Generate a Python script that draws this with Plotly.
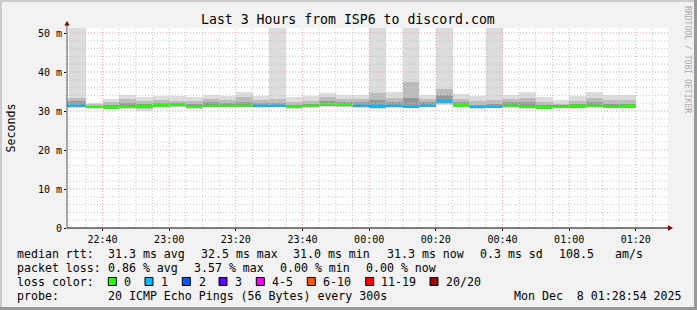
import plotly.graph_objects as go
import pandas as pd

# ---------------- data ----------------
times = ["2025-12-07 22:25", "2025-12-07 22:30", "2025-12-07 22:35", "2025-12-07 22:40",
         "2025-12-07 22:45", "2025-12-07 22:50", "2025-12-07 22:55", "2025-12-07 23:00",
         "2025-12-07 23:05", "2025-12-07 23:10", "2025-12-07 23:15", "2025-12-07 23:20",
         "2025-12-07 23:25", "2025-12-07 23:30", "2025-12-07 23:35", "2025-12-07 23:40",
         "2025-12-07 23:45", "2025-12-07 23:50", "2025-12-07 23:55", "2025-12-08 00:00",
         "2025-12-08 00:05", "2025-12-08 00:10", "2025-12-08 00:15", "2025-12-08 00:20",
         "2025-12-08 00:25", "2025-12-08 00:30", "2025-12-08 00:35", "2025-12-08 00:40",
         "2025-12-08 00:45", "2025-12-08 00:50", "2025-12-08 00:55", "2025-12-08 01:00",
         "2025-12-08 01:05", "2025-12-08 01:10", "2025-12-08 01:15"]

median_ms = [31.5, 31.4, 31.1, 31.0, 31.1, 31.2, 31.5, 31.6, 31.1, 31.3, 31.4, 31.4,
             31.3, 31.3, 31.1, 31.4, 31.8, 31.6, 31.4, 31.2, 31.4, 31.1, 31.4, 32.5,
             31.5, 31.1, 31.1, 31.3, 31.1, 31.0, 31.1, 31.2, 31.4, 31.1, 31.2]

lost_pings = [1, 1, 0, 0, 0, 0, 0, 0, 0, 0, 0, 0, 1, 1, 0, 0, 0, 0, 1, 1, 1, 1, 1, 1,
              0, 1, 1, 0, 0, 0, 0, 0, 0, 0, 0]

smoke_min = [30.8, 30.8, 30.6, 30.4, 30.6, 30.1, 30.8, 30.9, 30.4, 30.9, 30.9, 30.9,
             30.8, 30.9, 30.4, 30.8, 31.0, 30.9, 30.8, 30.4, 30.8, 30.7, 30.9, 31.6,
             30.9, 30.4, 30.8, 30.8, 30.6, 30.7, 30.8, 30.7, 30.8, 30.7, 30.7]
smoke_max = [33.4, 55.0, 32.0, 33.1, 34.1, 33.5, 33.9, 33.9, 33.6, 34.1, 33.8, 35.0,
             33.8, 55.0, 33.7, 33.8, 34.7, 34.1, 34.1, 55.0, 35.0, 55.0, 34.1, 55.0,
             34.3, 33.8, 55.0, 34.1, 34.8, 33.5, 32.8, 33.8, 34.8, 34.1, 34.1]
mid_lo = [31.0, 31.0, 30.8, 30.7, 30.8, 30.6, 31.0, 31.1, 30.7, 31.0, 31.1, 31.1,
          31.0, 31.0, 30.8, 31.0, 31.2, 31.1, 31.0, 30.7, 31.0, 30.9, 31.1, 31.8,
          31.1, 30.7, 30.9, 31.0, 30.8, 30.8, 30.9, 30.9, 31.0, 30.9, 30.9]
mid_hi = [32.8, 33.4, 31.7, 32.4, 33.0, 32.6, 32.8, 32.6, 32.6, 33.0, 32.8, 33.6,
          32.8, 33.2, 32.4, 32.6, 33.6, 33.0, 33.0, 34.7, 33.4, 37.5, 33.0, 35.6,
          33.0, 32.6, 32.8, 33.0, 33.4, 32.4, 31.9, 32.6, 33.4, 32.8, 32.8]
in_lo = [31.2, 31.2, 30.9, 30.8, 30.9, 30.9, 31.2, 31.3, 30.9, 31.1, 31.2, 31.2,
         31.1, 31.1, 30.9, 31.1, 31.4, 31.3, 31.1, 30.9, 31.1, 31.0, 31.2, 32.0,
         31.2, 30.9, 31.0, 31.1, 30.9, 30.9, 31.0, 31.0, 31.2, 31.0, 31.0]
in_hi = [32.2, 32.6, 31.4, 31.6, 32.0, 31.8, 32.0, 32.1, 31.8, 32.2, 32.0, 32.4,
         32.0, 32.0, 31.6, 31.9, 32.6, 32.3, 32.2, 32.8, 32.4, 33.4, 32.2, 34.0,
         32.2, 31.6, 31.8, 32.2, 32.4, 31.6, 31.5, 31.8, 32.4, 31.8, 31.9]

loss_labels = ["0", "1", "2", "3", "4-5", "6-10", "11-19", "20/20"]
loss_colors = ["#26ff00", "#00b8ff", "#0059ff", "#5e00ff", "#ff00ff", "#ff5500", "#ff0000", "#a00000"]

y_tick_vals = [0, 10, 20, 30, 40, 50]
y_tick_text = ["0", "10 m", "20 m", "30 m", "40 m", "50 m"]

title_text = "Last 3 Hours from ISP6 to discord.com"
legend_rows = [
    [("median rtt:", 16), ("31.3 ms avg", 107.3), ("32.5 ms max", 200.0), ("31.0 ms min", 292.3),
     ("31.3 ms now", 386.0), ("0.3 ms sd", 479.3), ("108.5", 558.3), ("am/s", 614.0)],
    [("packet loss:", 16), ("0.86 % avg", 107.3), ("3.57 % max", 193.3), ("0.00 % min", 279.3),
     ("0.00 % now", 365.0)],
    [("loss color:", 16)],
    [("probe:", 16), ("20 ICMP Echo Pings (56 Bytes) every 300s", 107.3),
     ("Mon Dec  8 01:28:54 2025", 512.7)],
]
legend_row_y = [254, 268, 282, 296]
swatch_x = [108.3, 145.0, 182.3, 219.0, 256.3, 307.3, 365.7, 430.0]
swatch_label_x = [123.3, 160.0, 197.7, 234.3, 271.0, 322.3, 380.0, 445.0]

# ---------------- geometry ----------------
W, H = 697, 310
L, R, T, B = 67, 668, 28, 228
PW, PH = R - L, B - T
MONO = "DejaVu Sans Mono"


def px(xp):
    return (xp - L) / PW


def py(yp):
    return (B - yp) / PH


def nb(s):
    return s.replace(" ", "\u00a0")


t = pd.to_datetime(times)
x_start = pd.Timestamp("2025-12-07 22:29:21")
x_end = pd.Timestamp("2025-12-08 01:29:39")
STEP = 300000

fig = go.Figure()


def band(lo, hi, color):
    fig.add_trace(go.Bar(
        x=t, base=lo, y=[h - l for l, h in zip(lo, hi)],
        width=STEP, offset=0, marker=dict(color=color, line=dict(width=0)),
        hoverinfo="skip", showlegend=False))


band(smoke_min, smoke_max, "#dcdcdc")
band(mid_lo, mid_hi, "#bcbcbc")
band(in_lo, in_hi, "#979797")

med_color = []
for n in lost_pings:
    idx = {0: 0, 1: 1, 2: 2, 3: 3}.get(n, 4 if n <= 5 else 5 if n <= 10 else 6 if n <= 19 else 7)
    med_color.append(loss_colors[idx])
fig.add_trace(go.Bar(
    x=t, base=[m - 0.25 for m in median_ms], y=[0.5] * len(median_ms),
    width=STEP, offset=0, marker=dict(color=med_color, line=dict(width=0)),
    hoverinfo="skip", showlegend=False))

shapes = []
# grid (drawn above the data like rrdtool)
minor_col = "#c8c8c8"
major_col = "#f2a0a0"
g = pd.Timestamp("2025-12-07 22:30")
while g <= x_end:
    major = (g.minute % 20 == 0)
    shapes.append(dict(type="line", xref="x", yref="paper", x0=g, x1=g, y0=0, y1=1,
                       layer="above", line=dict(color=major_col if major else minor_col,
                                                width=1, dash="1px,2px")))
    g += pd.Timedelta(minutes=5)
for yv in range(2, 52, 2):
    major = (yv % 10 == 0)
    shapes.append(dict(type="line", xref="paper", yref="y", x0=0, x1=1, y0=yv, y1=yv,
                       layer="above", line=dict(color=major_col if major else minor_col,
                                                width=1, dash="1px,2px")))

# axes with arrows
shapes.append(dict(type="line", xref="paper", yref="paper", x0=0, x1=px(670), y0=0, y1=0,
                   layer="above", line=dict(color="#000000", width=1)))
shapes.append(dict(type="line", xref="paper", yref="paper", x0=0, x1=0, y0=0, y1=py(23),
                   layer="above", line=dict(color="#555555", width=1)))
shapes.append(dict(type="path", xref="paper", yref="paper", layer="above",
                   path=f"M {px(668)} {py(225.3)} L {px(673)} {py(228)} L {px(668)} {py(230.7)} Z",
                   fillcolor="#7f0000", line=dict(width=0)))
shapes.append(dict(type="path", xref="paper", yref="paper", layer="above",
                   path=f"M {px(64.3)} {py(25.5)} L {px(67)} {py(21)} L {px(69.7)} {py(25.5)} Z",
                   fillcolor="#7f0000", line=dict(width=0)))

# frame (3D-style border)
shapes.append(dict(type="rect", xref="paper", yref="paper", x0=px(0), x1=px(697), y0=py(0), y1=py(2),
                   fillcolor="#cbcbcb", line=dict(width=0)))
shapes.append(dict(type="rect", xref="paper", yref="paper", x0=px(0), x1=px(2), y0=py(0), y1=py(310),
                   fillcolor="#cbcbcb", line=dict(width=0)))
shapes.append(dict(type="rect", xref="paper", yref="paper", x0=px(0), x1=px(697), y0=py(307), y1=py(310),
                   fillcolor="#999999", line=dict(width=0)))
shapes.append(dict(type="rect", xref="paper", yref="paper", x0=px(694), x1=px(697), y0=py(0), y1=py(310),
                   fillcolor="#999999", line=dict(width=0)))

# loss colour swatches
for sx, col in zip(swatch_x, loss_colors):
    shapes.append(dict(type="rect", xref="paper", yref="paper", x0=px(sx), x1=px(sx + 8),
                       y0=py(277.5), y1=py(285.5), fillcolor=col, line=dict(color="#000000", width=1)))

annotations = []
for row, yrow in zip(legend_rows, legend_row_y):
    for txt, xl in row:
        annotations.append(dict(text=nb(txt), xref="paper", yref="paper", x=px(xl), y=py(yrow),
                                xanchor="left", yanchor="middle", showarrow=False, borderpad=0,
                                font=dict(family=MONO, size=11.6, color="#000000")))
for lab, xl in zip(loss_labels, swatch_label_x):
    annotations.append(dict(text=nb(lab), xref="paper", yref="paper", x=px(xl), y=py(282),
                            xanchor="left", yanchor="middle", showarrow=False, borderpad=0,
                            font=dict(family=MONO, size=11.6, color="#000000")))
annotations.append(dict(text="Seconds", xref="paper", yref="paper", x=px(10.5), y=py(128),
                        xanchor="center", yanchor="middle", textangle=-90, showarrow=False,
                        font=dict(family=MONO, size=11.6, color="#000000")))
annotations.append(dict(text=nb("RRDTOOL / TOBI OETIKER"), xref="paper", yref="paper", x=px(688),
                        y=py(59), xanchor="center", yanchor="middle", textangle=90, showarrow=False,
                        font=dict(family=MONO, size=8.1, color="#aaaaaa")))
annotations.append(dict(text=nb(title_text), xref="paper", yref="paper", x=px(348), y=py(19),
                        xanchor="center", yanchor="middle", showarrow=False,
                        font=dict(family=MONO, size=13.2, color="#000000")))

fig.update_layout(
    width=W, height=H, autosize=False,
    margin=dict(l=L, r=W - R, t=T, b=H - B, pad=0),
    paper_bgcolor="#f2f2f2", plot_bgcolor="#ffffff",
    barmode="overlay", bargap=0, showlegend=False,
    shapes=shapes, annotations=annotations,
    xaxis=dict(type="date", range=[x_start, x_end], showgrid=False, zeroline=False, showline=False,
               tick0="2025-12-07 22:40", dtick=1200000, tickformat="%H:%M",
               ticks="outside", ticklen=2, tickcolor="#000000",
               tickfont=dict(family=MONO, size=10, color="#000000"), fixedrange=True),
    yaxis=dict(range=[0, 200 / 3.9], showgrid=False, zeroline=False, showline=False,
               tickvals=y_tick_vals, ticktext=[nb(s) for s in y_tick_text],
               ticks="outside", ticklen=2, tickcolor="#000000",
               tickfont=dict(family=MONO, size=10, color="#000000"), fixedrange=True),
)

fig.write_html("out.html")
